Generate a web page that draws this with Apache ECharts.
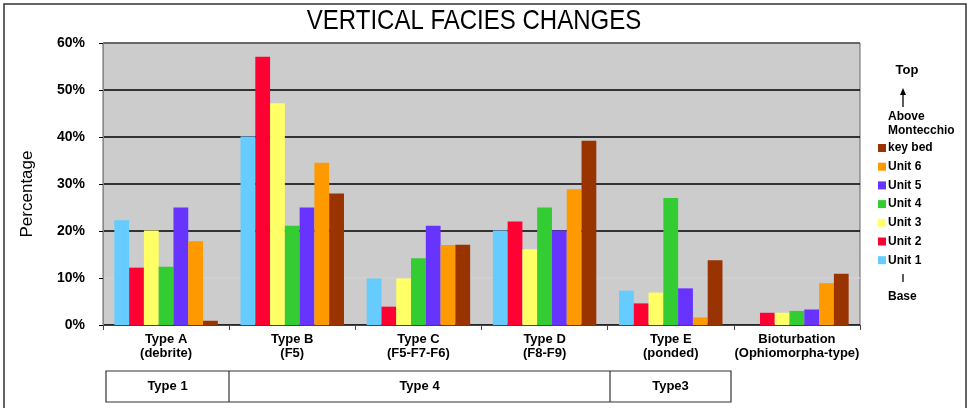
<!DOCTYPE html>
<html><head><meta charset="utf-8">
<script src="https://cdn.jsdelivr.net/npm/echarts@6/dist/echarts.min.js"></script>
<style>html,body{margin:0;padding:0;background:#fff}#c{width:973px;height:408px}</style>
</head><body><div id="c"></div>
<script>
const categories = ['Type A\n(debrite)', 'Type B\n(F5)', 'Type C\n(F5-F7-F6)', 'Type D\n(F8-F9)', 'Type E\n(ponded)', 'Bioturbation\n(Ophiomorpha-type)'];
const seriesNames = ['Unit 1', 'Unit 2', 'Unit 3', 'Unit 4', 'Unit 5', 'Unit 6', 'Above Montecchio key bed'];
const unit1 = [22.3, 40.1, 9.9, 20.1, 7.3, 0];
const unit2 = [12.2, 57.1, 3.9, 22.0, 4.6, 2.6];
const unit3 = [20.1, 47.2, 9.9, 16.1, 6.9, 2.6];
const unit4 = [12.4, 21.1, 14.2, 25.0, 27.0, 3.0];
const unit5 = [25.0, 25.0, 21.1, 20.1, 7.8, 3.3];
const unit6 = [17.8, 34.5, 17.0, 28.9, 1.6, 8.9];
const aboveKeyBed = [0.9, 28.0, 17.1, 39.2, 13.8, 10.9];
const yTickValues = [0, 10, 20, 30, 40, 50, 60];
const groupLabels = ['Type 1', 'Type 4', 'Type3'];

const colors = ['#66CCFF', '#FF0033', '#FFFF66', '#33CC33', '#6633FF', '#FF9900', '#993300'];
const allData = [unit1, unit2, unit3, unit4, unit5, unit6, aboveKeyBed];
const FONT = '"Liberation Sans", Arial, sans-serif';

const chart = echarts.init(document.getElementById('c'));
chart.setOption({
  animation: false,
  color: colors,
  textStyle: { fontFamily: FONT },
  grid: { left: 103, right: 113, top: 43, bottom: 83, show: true, backgroundColor: '#CCCCCC', borderColor: '#666', borderWidth: 1 },
  legend: {
    orient: 'vertical', left: 873, top: 137, itemWidth: 8, itemHeight: 8, itemGap: 6.7, icon: 'rect',
    data: seriesNames.slice().reverse(),
    formatter: n => n === 'Above Montecchio key bed' ? 'key bed' : n,
    textStyle: { fontFamily: FONT, fontSize: 12, fontWeight: 'bold', color: '#000', padding: [0, 0, 0, -3] }
  },
  xAxis: {
    type: 'category', data: categories,
    axisLine: { lineStyle: { color: '#444', width: 1 } },
    axisTick: { show: true, length: 5, lineStyle: { color: '#444' } },
    axisLabel: { interval: 0, fontFamily: FONT, fontSize: 13, fontWeight: 'bold', color: '#000', lineHeight: 13.5, margin: 8 }
  },
  yAxis: {
    type: 'value', min: yTickValues[0], max: yTickValues[yTickValues.length - 1], interval: 10,
    axisLine: { show: true, lineStyle: { color: '#888' } },
    axisTick: { show: true, length: 4, lineStyle: { color: '#000' } },
    axisLabel: { formatter: '{value}%', fontFamily: FONT, fontSize: 14, fontWeight: 'bold', color: '#000', margin: 18 },
    splitLine: { show: true, lineStyle: { color: ['#000', '#D2D2D2', '#000', '#000', '#000', '#000', '#555'], width: 1.5 } }
  },
  series: seriesNames.map((n, i) => ({
    name: n, type: 'bar', data: allData[i], barGap: '0%', barCategoryGap: '18%'
  })),
  graphic: [
    { type: 'rect', shape: { x: 4, y: 4, width: 962, height: 410 }, style: { fill: 'none', stroke: '#333', lineWidth: 1.5 }, silent: true },
    { type: 'text', x: 474, y: 22, scaleY: 1.12, style: { text: 'VERTICAL FACIES CHANGES', font: '24px ' + FONT, fill: '#000', textAlign: 'center', textVerticalAlign: 'middle' } },
    { type: 'text', x: 27, y: 194, rotation: Math.PI / 2, style: { text: 'Percentage', font: '17px ' + FONT, fill: '#000', textAlign: 'center', textVerticalAlign: 'middle' } },
    { type: 'rect', shape: { x: 106, y: 371, width: 625, height: 31 }, style: { fill: 'none', stroke: '#333', lineWidth: 1.2 } },
    { type: 'line', shape: { x1: 229, y1: 371, x2: 229, y2: 402 }, style: { stroke: '#333', lineWidth: 1.2 } },
    { type: 'line', shape: { x1: 610, y1: 371, x2: 610, y2: 402 }, style: { stroke: '#333', lineWidth: 1.2 } },
    { type: 'text', x: 167.5, y: 386, style: { text: groupLabels[0], font: 'bold 13px ' + FONT, fill: '#000', textAlign: 'center', textVerticalAlign: 'middle' } },
    { type: 'text', x: 419.5, y: 386, style: { text: groupLabels[1], font: 'bold 13px ' + FONT, fill: '#000', textAlign: 'center', textVerticalAlign: 'middle' } },
    { type: 'text', x: 670.5, y: 386, style: { text: groupLabels[2], font: 'bold 13px ' + FONT, fill: '#000', textAlign: 'center', textVerticalAlign: 'middle' } },
    { type: 'text', x: 907, y: 70, style: { text: 'Top', font: 'bold 13px ' + FONT, fill: '#000', textAlign: 'center', textVerticalAlign: 'middle' } },
    { type: 'line', shape: { x1: 903, y1: 107, x2: 903, y2: 92 }, style: { stroke: '#000', lineWidth: 1.3 } },
    { type: 'polygon', shape: { points: [[903, 88], [900, 95], [906, 95]] }, style: { fill: '#000' } },
    { type: 'text', x: 888, y: 117, style: { text: 'Above', font: 'bold 12px ' + FONT, fill: '#000', textAlign: 'left', textVerticalAlign: 'middle' } },
    { type: 'text', x: 888, y: 131, style: { text: 'Montecchio', font: 'bold 12px ' + FONT, fill: '#000', textAlign: 'left', textVerticalAlign: 'middle' } },
    { type: 'line', shape: { x1: 903, y1: 274, x2: 903, y2: 282 }, style: { stroke: '#000', lineWidth: 1.3 } },
    { type: 'text', x: 888, y: 297, style: { text: 'Base', font: 'bold 12px ' + FONT, fill: '#000', textAlign: 'left', textVerticalAlign: 'middle' } }
  ]
});
</script></body></html>
